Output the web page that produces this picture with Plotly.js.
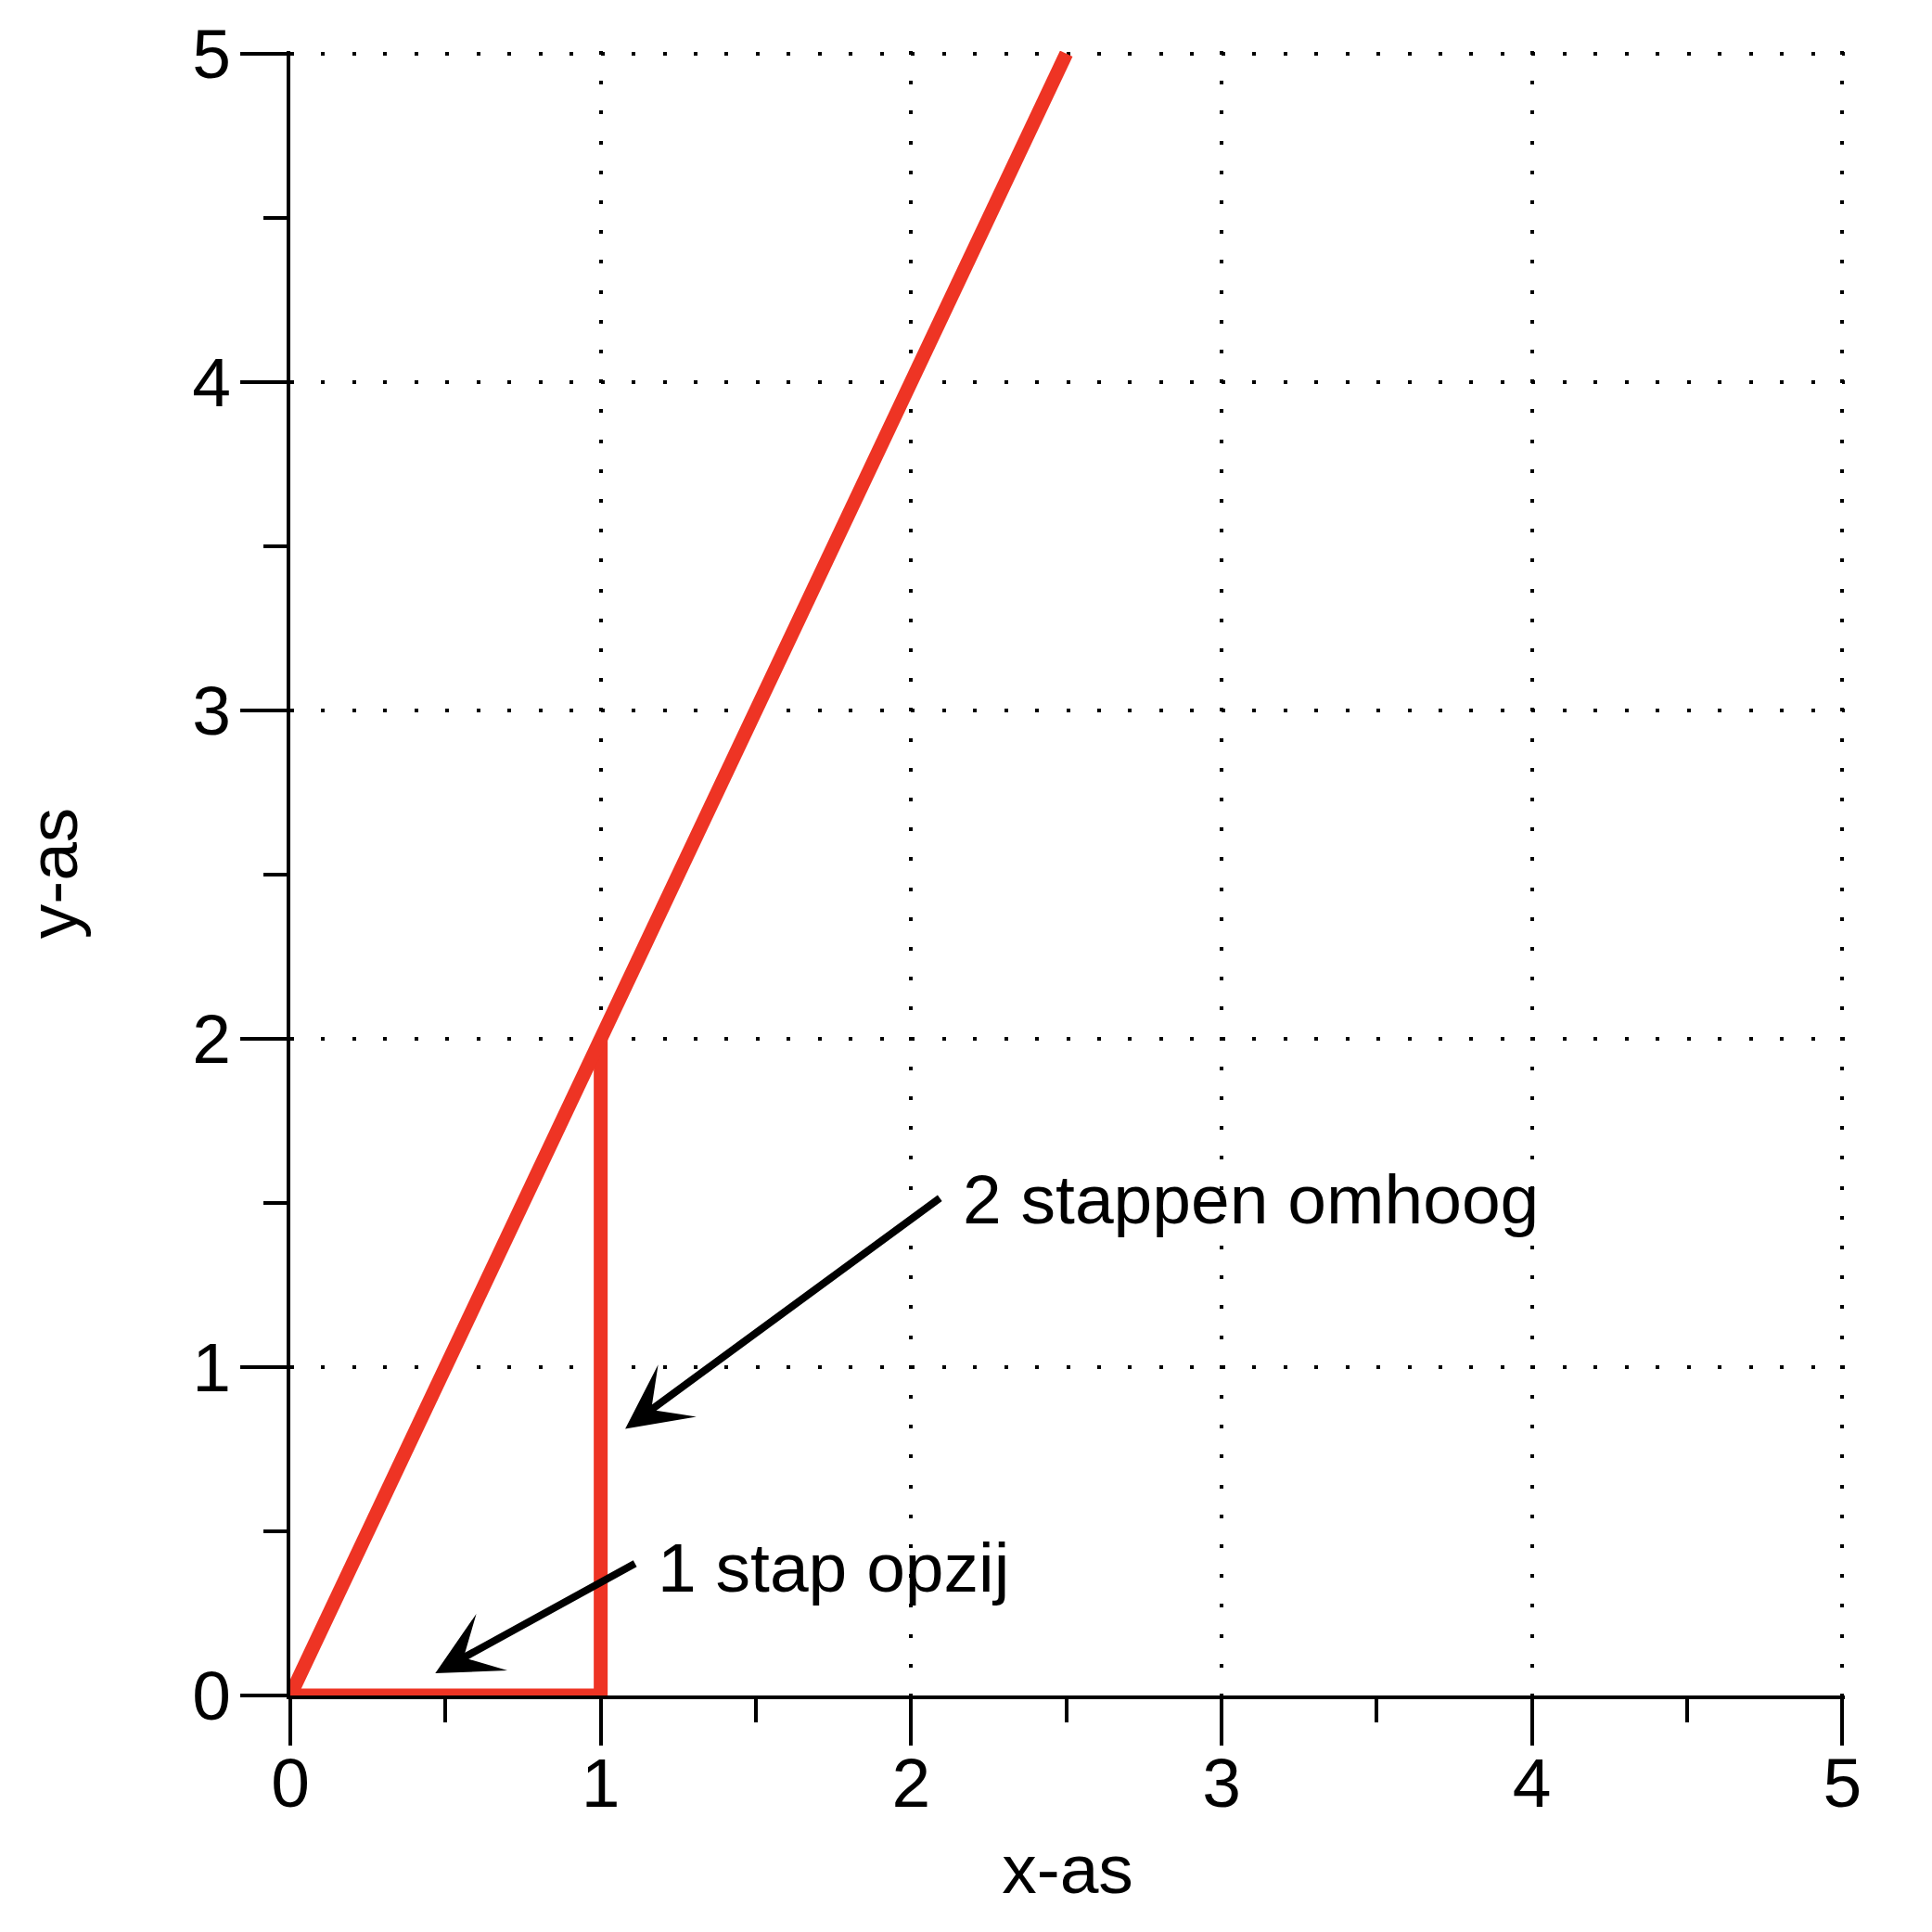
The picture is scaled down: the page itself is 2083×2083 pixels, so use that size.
<!DOCTYPE html>
<html>
<head>
<meta charset="utf-8">
<script src="https://cdn.plot.ly/plotly-3.0.1.min.js"></script>
<style>html,body{margin:0;padding:0;background:#fff;}</style>
</head>
<body>
<div id="chart" style="width:2083px;height:2083px;"></div>
<script>
// ---- data ----
const slopeX = [0, 2.5];
const slopeY = [0, 5];
const stepX = [0, 1, 1];
const stepY = [0, 0, 2];

const tickVals = [0, 1, 2, 3, 4, 5];
const tickText = ['0', '1', '2', '3', '4', '5'];

const labelTexts = ['2 stappen omhoog', '1 stap opzij'];
const labelX = [2.161, 1.178];
const labelY = [1.511, 0.390];

const arrowHeadX = [1.079, 0.467];
const arrowHeadY = [0.812, 0.068];
const arrowTailX = [2.097, 1.115];
const arrowTailY = [1.518, 0.404];

const xTitle = 'x-as';
const yTitle = 'y-as';

// ---- chart ----
const FONT = 'Liberation Sans, Arial, Helvetica, sans-serif';
const FS = 75;
const RED = '#ee3424';

const traces = [
  {x: stepX, y: stepY, type: 'scatter', mode: 'lines',
   line: {color: RED, width: 15}, hoverinfo: 'skip', showlegend: false},
  {x: slopeX, y: slopeY, type: 'scatter', mode: 'lines',
   line: {color: RED, width: 15}, hoverinfo: 'skip', showlegend: false}
];

const annotations = [];
for (let i = 0; i < labelTexts.length; i++) {
  annotations.push({
    x: arrowHeadX[i], y: arrowHeadY[i], xref: 'x', yref: 'y',
    ax: arrowTailX[i], ay: arrowTailY[i], axref: 'x', ayref: 'y',
    text: '', showarrow: true, arrowhead: 3, arrowsize: 1.45, arrowwidth: 8,
    arrowcolor: '#000', standoff: 0, startstandoff: 0
  });
  annotations.push({
    x: labelX[i], y: labelY[i], xref: 'x', yref: 'y',
    text: labelTexts[i], showarrow: false, xanchor: 'left', yanchor: 'middle',
    font: {family: FONT, size: FS, color: '#000'}
  });
}

// slight range extension so Plotly keeps the grid lines at the value 5
const axMax = 5.008;

const axisCommon = {
  range: [0, axMax], tickvals: tickVals, ticktext: tickText,
  ticks: 'outside', ticklen: 50, tickwidth: 4, tickcolor: '#000',
  showline: true, linewidth: 4, linecolor: '#000', zeroline: false,
  showgrid: true, gridcolor: '#000', gridwidth: 4,
  tickfont: {family: FONT, size: FS, color: '#000'},
  minor: {tickvals: [0.5, 1.5, 2.5, 3.5, 4.5], ticks: 'outside', ticklen: 25, tickwidth: 4, tickcolor: '#000', showgrid: false},
  fixedrange: true, automargin: false
};

const layout = {
  width: 2083, height: 2083,
  margin: {l: 313, r: 94, t: 55, b: 255},
  paper_bgcolor: '#fff', plot_bgcolor: '#fff',
  font: {family: FONT, size: FS, color: '#000'},
  xaxis: Object.assign({}, axisCommon, {
    griddash: '4px,28.2px',
    ticklabelstandoff: -24,
    title: {text: xTitle, font: {family: FONT, size: FS, color: '#000'}, standoff: 26}
  }),
  yaxis: Object.assign({}, axisCommon, {
    griddash: '4px,29.46px',
    ticklabelstandoff: -5,
    title: {text: yTitle, font: {family: FONT, size: FS, color: '#000'}, standoff: 100}
  }),
  annotations: annotations,
  showlegend: false
};

Plotly.newPlot('chart', traces, layout, {staticPlot: true});
</script>
</body>
</html>
